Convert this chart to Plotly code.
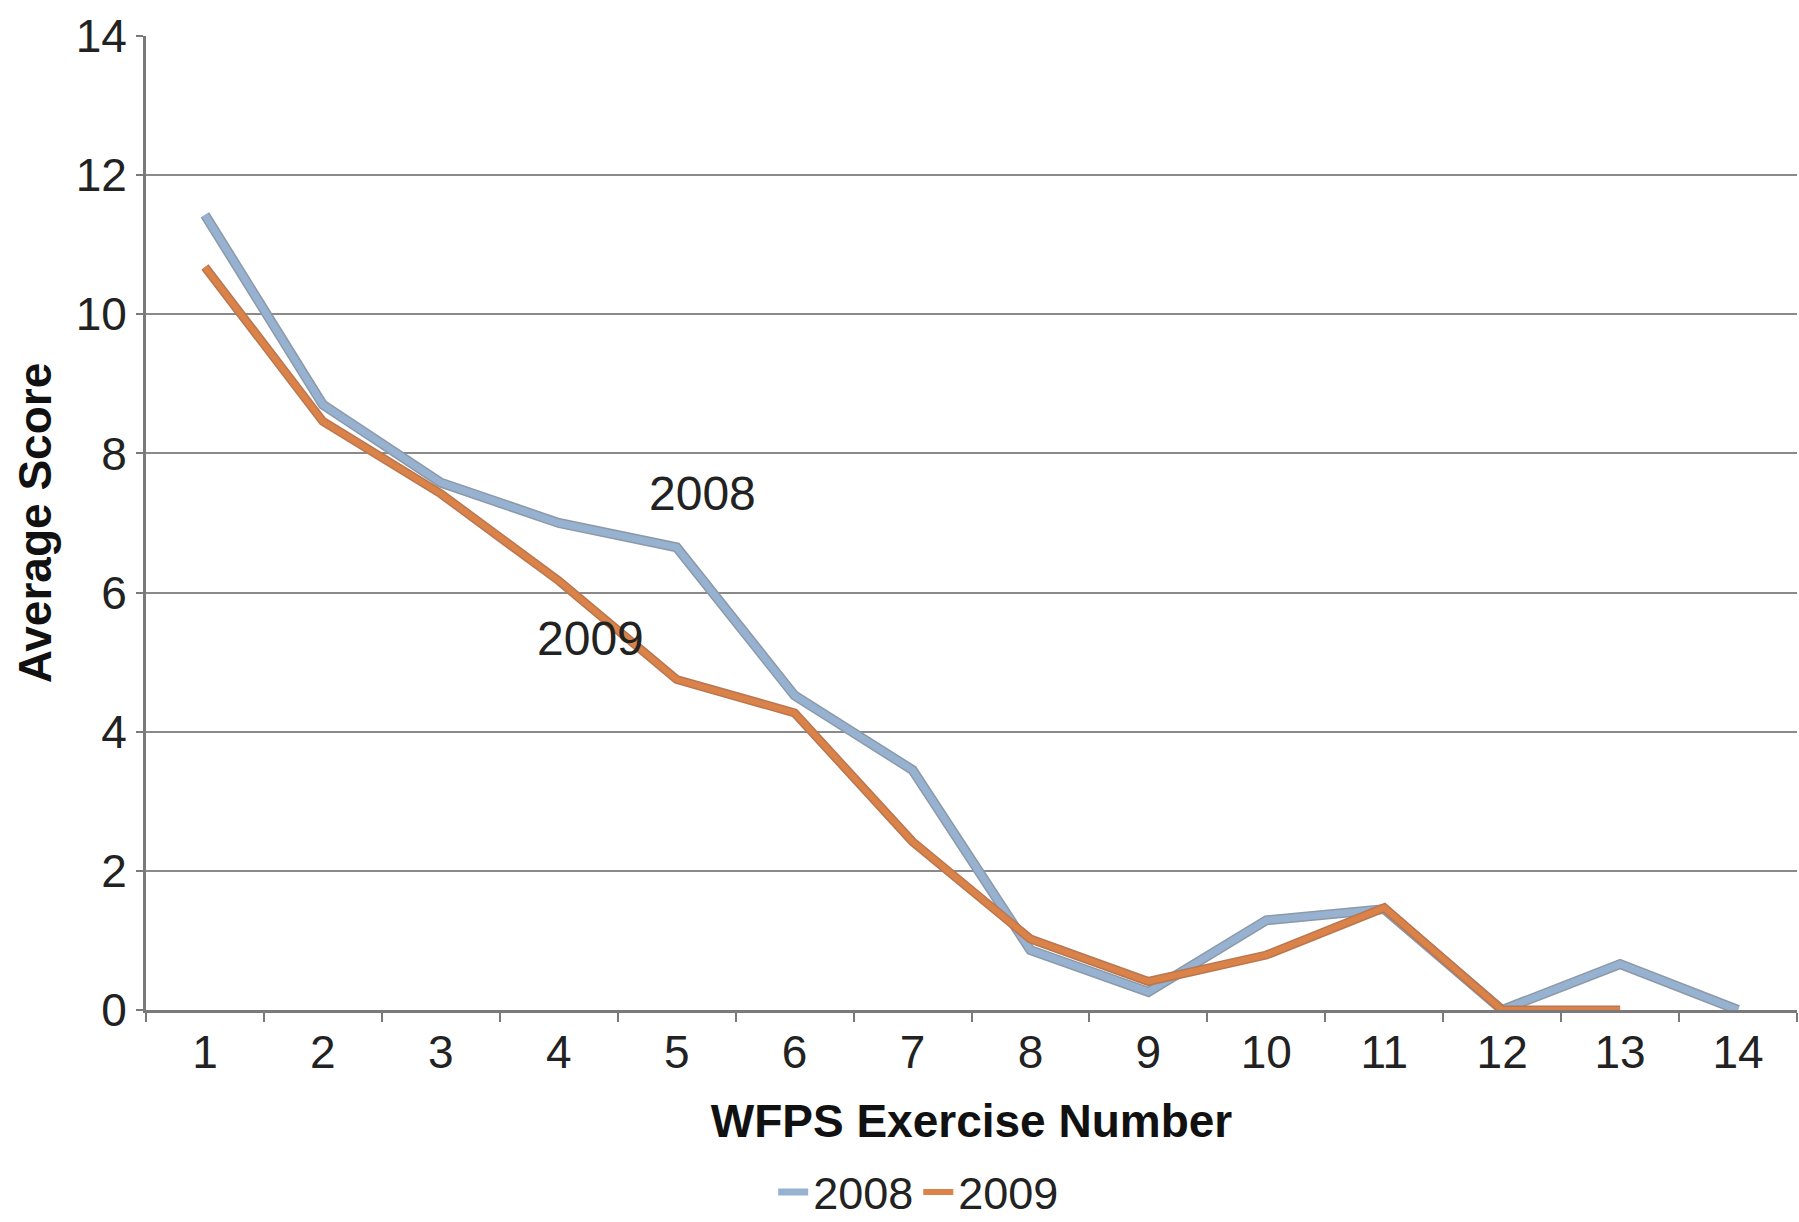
import plotly.graph_objects as go

# Exercise numbers (category axis) and average scores per year
exercises = [str(i) for i in range(1, 15)]
scores_2008 = [11.43, 8.70, 7.58, 7.00, 6.65, 4.52, 3.45, 0.86, 0.26, 1.29, 1.45, 0.00, 0.66, 0.00]
scores_2009 = [10.68, 8.46, 7.42, 6.17, 4.75, 4.27, 2.42, 1.02, 0.41, 0.79, 1.47, 0.00, 0.00]
y_ticks = [0, 2, 4, 6, 8, 10, 12, 14]

BLUE = "#97b2d0"
BLUE_EDGE = "#8b99a8"
ORANGE = "#da8247"
ORANGE_EDGE = "#b87752"
FONT = "Liberation Sans, Arial, sans-serif"

fig = go.Figure()

# darker outline under each line
fig.add_trace(go.Scatter(x=exercises[:len(scores_2008)], y=scores_2008, mode="lines",
                         line=dict(color=BLUE_EDGE, width=10), showlegend=False, hoverinfo="skip"))
fig.add_trace(go.Scatter(x=exercises[:len(scores_2008)], y=scores_2008, mode="lines", name="2008",
                         line=dict(color=BLUE, width=7)))
fig.add_trace(go.Scatter(x=exercises[:len(scores_2009)], y=scores_2009, mode="lines",
                         line=dict(color=ORANGE_EDGE, width=9), showlegend=False, hoverinfo="skip"))
fig.add_trace(go.Scatter(x=exercises[:len(scores_2009)], y=scores_2009, mode="lines", name="2009",
                         line=dict(color=ORANGE, width=6)))

# in-chart series labels (x given as category index)
fig.add_annotation(x=4.22, y=7.42, text="2008", showarrow=False,
                   xanchor="center", yanchor="middle",
                   font=dict(family=FONT, size=48, color="#222222"))
fig.add_annotation(x=3.27, y=5.34, text="2009", showarrow=False,
                   xanchor="center", yanchor="middle",
                   font=dict(family=FONT, size=48, color="#222222"))

fig.update_layout(
    width=1799, height=1222,
    margin=dict(l=146, r=2, t=36, b=212, autoexpand=False),
    paper_bgcolor="white", plot_bgcolor="white",
    font=dict(family=FONT, size=46, color="#222222"),
    showlegend=True,
    legend=dict(orientation="h", x=0.468, xanchor="center", y=-0.187, yanchor="middle",
                font=dict(family=FONT, size=45, color="#222222"),
                itemwidth=30, tracegroupgap=0),
)

fig.update_xaxes(
    type="category", categoryorder="array", categoryarray=exercises,
    range=[-0.5, 13.5], automargin=False,
    showline=True, linecolor="#7a7a7a", linewidth=3,
    ticks="outside", tickson="boundaries", ticklen=9, tickwidth=2, tickcolor="#7a7a7a",
    showgrid=False, zeroline=False,
    tickfont=dict(family=FONT, size=46, color="#222222"),
    title=dict(text="<b>WFPS Exercise Number</b>", standoff=28,
               font=dict(family=FONT, size=46, color="#111111")),
)

fig.update_yaxes(
    range=[0, 14], tickvals=y_ticks, automargin=False,
    showline=True, linecolor="#7a7a7a", linewidth=3,
    ticks="outside", ticklen=7, tickwidth=2, tickcolor="#7a7a7a",
    showgrid=True, gridcolor="#8a8a8a", gridwidth=2,
    zeroline=False,
    tickfont=dict(family=FONT, size=46, color="#222222"),
    title=dict(text="<b>Average Score</b>", standoff=10,
               font=dict(family=FONT, size=46, color="#111111")),
)

fig.write_html("out.html")
